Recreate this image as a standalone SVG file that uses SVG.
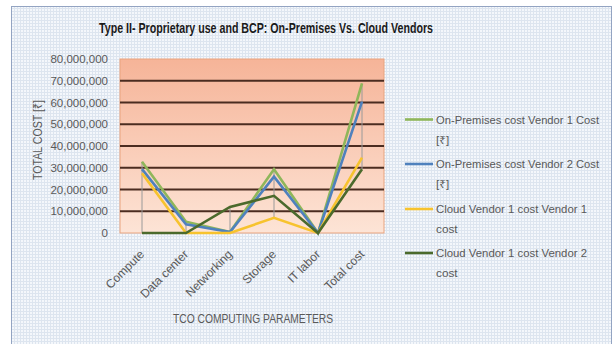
<svg xmlns="http://www.w3.org/2000/svg" width="614" height="344" viewBox="0 0 614 344">
  <defs>
    <pattern id="dots" width="3" height="3" patternUnits="userSpaceOnUse">
      <rect width="3" height="3" fill="#dde5ef"/>
      <rect width="2" height="2" fill="#f4f7fb"/>
    </pattern>
    <linearGradient id="plotFill" x1="0" y1="0" x2="0" y2="1">
      <stop offset="0" stop-color="#f6b498"/>
      <stop offset="1" stop-color="#fde4d6"/>
    </linearGradient>
    <style>
      text { font-family: "Liberation Sans", "Noto Sans", "DejaVu Sans", sans-serif; fill: #595959; }
      .title { font-size: 15px; font-weight: bold; fill: #1a1a1a; }
      .ytick { font-size: 11.5px; text-anchor: end; }
      .xtick { font-size: 12px; text-anchor: end; }
      .axisTitle { font-size: 12.5px; }
      .legend { font-size: 11.8px; }
      .grid { stroke: #4b2c20; stroke-width: 2; }
      .drop { stroke: #9a9a9a; stroke-width: 1; fill: none; }
      .series { fill: none; stroke-width: 2.6; stroke-linejoin: miter; }
      .s1 { stroke: #8fb65a; }
      .s2 { stroke: #4f81bd; }
      .s3 { stroke: #f7c32e; }
      .s4 { stroke: #4b6a2c; }
    </style>
  </defs>

  <!-- chart frame -->
  <rect x="0" y="0" width="614" height="344" fill="#ffffff"/>
  <rect x="11.5" y="6.5" width="600" height="340" fill="url(#dots)" stroke="#93a4c2" stroke-width="1"/>

  <!-- title -->
  <text class="title" x="266" y="33" text-anchor="middle" textLength="334" lengthAdjust="spacingAndGlyphs">Type II- Proprietary use and BCP: On-Premises Vs. Cloud Vendors</text>

  <!-- plot area -->
  <g id="plot-area">
    <rect x="120" y="59" width="264" height="174" fill="url(#plotFill)" stroke="#e9a47e" stroke-width="1"/>
    <line class="grid" x1="120" y1="80.75" x2="384" y2="80.75"/>
    <line class="grid" x1="120" y1="102.5" x2="384" y2="102.5"/>
    <line class="grid" x1="120" y1="124.25" x2="384" y2="124.25"/>
    <line class="grid" x1="120" y1="146" x2="384" y2="146"/>
    <line class="grid" x1="120" y1="167.75" x2="384" y2="167.75"/>
    <line class="grid" x1="120" y1="189.5" x2="384" y2="189.5"/>
    <line class="grid" x1="120" y1="211.25" x2="384" y2="211.25"/>
  </g>

  <!-- value axis -->
  <g id="y-axis">
    <text class="ytick" x="108" y="63">80,000,000</text>
    <text class="ytick" x="108" y="84.75">70,000,000</text>
    <text class="ytick" x="108" y="106.5">60,000,000</text>
    <text class="ytick" x="108" y="128.25">50,000,000</text>
    <text class="ytick" x="108" y="150">40,000,000</text>
    <text class="ytick" x="108" y="171.75">30,000,000</text>
    <text class="ytick" x="108" y="193.5">20,000,000</text>
    <text class="ytick" x="108" y="215.25">10,000,000</text>
    <text class="ytick" x="108" y="237">0</text>
    <text class="axisTitle" transform="translate(42 140) rotate(-90)" text-anchor="middle" textLength="80" lengthAdjust="spacingAndGlyphs">TOTAL COST [₹]</text>
  </g>

  <!-- category axis -->
  <g id="x-axis">
    <text class="xtick" transform="translate(145 255) rotate(-45)">Compute</text>
    <text class="xtick" transform="translate(189 255) rotate(-45)">Data center</text>
    <text class="xtick" transform="translate(233 255) rotate(-45)">Networking</text>
    <text class="xtick" transform="translate(277 255) rotate(-45)">Storage</text>
    <text class="xtick" transform="translate(321 255) rotate(-45)">IT labor</text>
    <text class="xtick" transform="translate(365 255) rotate(-45)">Total cost</text>
    <text class="axisTitle" x="253" y="323" text-anchor="middle" textLength="160" lengthAdjust="spacingAndGlyphs">TCO COMPUTING PARAMETERS</text>
  </g>

  <!-- high-low drop lines and series -->
  <g id="connectors">
    <line class="drop" x1="142" y1="161.7" x2="142" y2="233"/>
    <line class="drop" x1="186" y1="221.7" x2="186" y2="233"/>
    <line class="drop" x1="230" y1="206.9" x2="230" y2="233"/>
    <line class="drop" x1="274" y1="169.3" x2="274" y2="217.8"/>
    <line class="drop" x1="362" y1="83.4" x2="362" y2="169.3"/>

    <polyline class="series s1" points="142,161.7 186,221.7 230,232.1 274,169.3 318,233 362,83.4"/>
    <polyline class="series s2" points="142,169.1 186,224.3 230,232.1 274,176.7 318,233 362,101.6"/>
    <polyline class="series s3" points="142,173.2 186,233 230,233 274,217.8 318,233 362,157.7"/>
    <polyline class="series s4" points="142,233 186,233 230,206.9 274,195.8 318,233 362,169.3"/>
  </g>

  <!-- legend -->
  <g id="legend">
    <line class="series s1" x1="405" y1="119.5" x2="433" y2="119.5"/>
    <text class="legend" x="436" y="123.5" textLength="163" lengthAdjust="spacingAndGlyphs">On-Premises cost Vendor 1 Cost</text>
    <text class="legend" x="436" y="143.5">[₹]</text>

    <line class="series s2" x1="405" y1="164" x2="433" y2="164"/>
    <text class="legend" x="436" y="168" textLength="163" lengthAdjust="spacingAndGlyphs">On-Premises cost Vendor 2 Cost</text>
    <text class="legend" x="436" y="188">[₹]</text>

    <line class="series s3" x1="405" y1="209" x2="433" y2="209"/>
    <text class="legend" x="436" y="213" textLength="151" lengthAdjust="spacingAndGlyphs">Cloud Vendor 1 cost Vendor 1</text>
    <text class="legend" x="436" y="233">cost</text>

    <line class="series s4" x1="405" y1="253" x2="433" y2="253"/>
    <text class="legend" x="436" y="257" textLength="151" lengthAdjust="spacingAndGlyphs">Cloud Vendor 1 cost Vendor 2</text>
    <text class="legend" x="436" y="277">cost</text>
  </g>
</svg>
